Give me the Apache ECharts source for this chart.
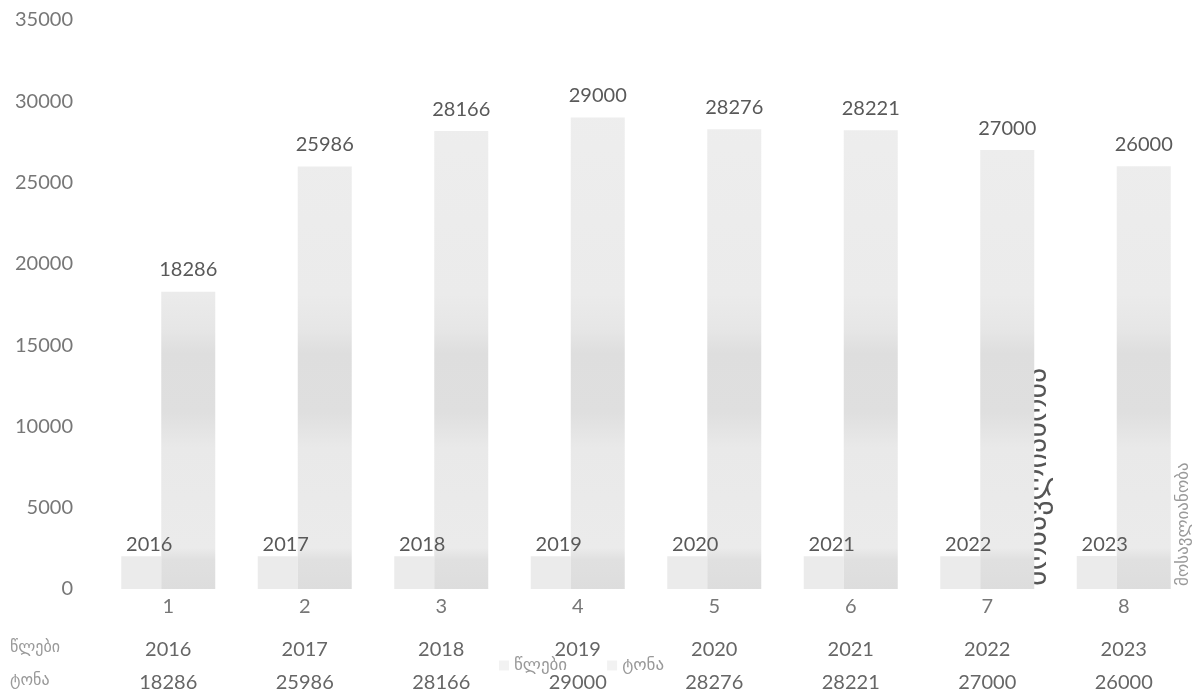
<!DOCTYPE html>
<html>
<head>
<meta charset="utf-8">
<script src="https://cdn.jsdelivr.net/npm/echarts@6/dist/echarts.min.js"></script>
<style>
html,body{margin:0;padding:0;background:#fff;}
#chart{width:1197px;height:700px;}
</style>
</head>
<body>
<div id="chart"></div>
<script>
// ---- data ----
const categories = ['1', '2', '3', '4', '5', '6', '7', '8'];
const years = [2016, 2017, 2018, 2019, 2020, 2021, 2022, 2023];
const tonnes = [18286, 25986, 28166, 29000, 28276, 28221, 27000, 26000];
const seriesNames = ['წლები', 'ტონა'];
const axisName = 'მოსავლიანობა';
const yMax = 35000;
const yInterval = 5000;

const FONT = 'Lato, "DejaVu Sans", sans-serif';
const GEO = '"DejaVu Sans", sans-serif';
const chart = echarts.init(document.getElementById('chart'), null, {renderer: 'canvas'});

const tonneFill = {
  type: 'linear', x: 0, y: 0, x2: 0, y2: 589, global: true,
  colorStops: [
    {offset: 0.00, color: '#efefef'},
    {offset: 0.50, color: '#ebebeb'},
    {offset: 0.56, color: '#e6e6e6'},
    {offset: 0.60, color: '#dedede'},
    {offset: 0.70, color: '#dfdfdf'},
    {offset: 0.76, color: '#e9e9e9'},
    {offset: 0.93, color: '#ebebeb'},
    {offset: 0.95, color: '#e0e0e0'},
    {offset: 1.00, color: '#dddddd'}
  ]
};

const tableAxis = (data, offset) => ({
  type: 'category', data: data, gridIndex: 0, position: 'bottom', offset: offset,
  axisLine: {show: false}, axisTick: {show: false}, splitLine: {show: false},
  axisLabel: {color: '#666', fontSize: 20, fontFamily: FONT, margin: 8, interval: 0}
});

chart.setOption({
  backgroundColor: '#ffffff',
  animation: false,
  grid: {left: 100, right: 5, top: 20, bottom: 111, containLabel: false},
  legend: {
    data: seriesNames, left: 494, top: 652, itemWidth: 10, itemHeight: 10, itemGap: 40,
    textStyle: {color: '#999', fontSize: 17, fontFamily: GEO},
    icon: 'rect',
    itemStyle: {color: '#f2f2f2'}
  },
  xAxis: [
    {
      type: 'category', data: categories, position: 'bottom',
      axisLine: {show: false}, axisTick: {show: false},
      axisLabel: {color: '#777', fontSize: 20, fontFamily: FONT, margin: 8}
    },
    tableAxis(years, 43),
    tableAxis(tonnes, 76)
  ],
  yAxis: {
    type: 'value', min: 0, max: yMax, interval: yInterval,
    axisLine: {show: false}, axisTick: {show: false}, splitLine: {show: false},
    axisLabel: {color: '#777', fontSize: 20, fontFamily: FONT, margin: 27,
      formatter: v => String(v)}
  },
  series: [
    {
      name: seriesNames[0], type: 'bar', data: years, xAxisIndex: 0,
      barWidth: 40, barGap: '0%',
      itemStyle: {color: '#ebebeb'},
      label: {show: true, position: 'top', distance: 2, offset: [8, 0],
        color: '#595959', fontSize: 20, fontFamily: FONT}
    },
    {
      name: seriesNames[1], type: 'bar', data: tonnes, xAxisIndex: 0,
      barWidth: 54, barGap: '0%',
      itemStyle: {color: tonneFill},
      label: {show: true, position: 'top', distance: 12,
        color: '#595959', fontSize: 20, fontFamily: FONT}
    }
  ],
  graphic: [
    {type: 'text', left: 10, top: 640, style: {text: seriesNames[0], fill: '#999', fontSize: 16, fontFamily: GEO}},
    {type: 'text', left: 10, top: 673, style: {text: seriesNames[1], fill: '#999', fontSize: 16, fontFamily: GEO}},
    {type: 'text', x: 1023, y: 586, rotation: Math.PI / 2,
      style: {text: axisName, fill: '#555', fontSize: 30, fontFamily: GEO, verticalAlign: 'top'}},
    {type: 'text', x: 1175, y: 586, rotation: Math.PI / 2,
      style: {text: axisName, fill: '#999', fontSize: 17, fontFamily: GEO, verticalAlign: 'top'}}
  ]
});
</script>
</body>
</html>
